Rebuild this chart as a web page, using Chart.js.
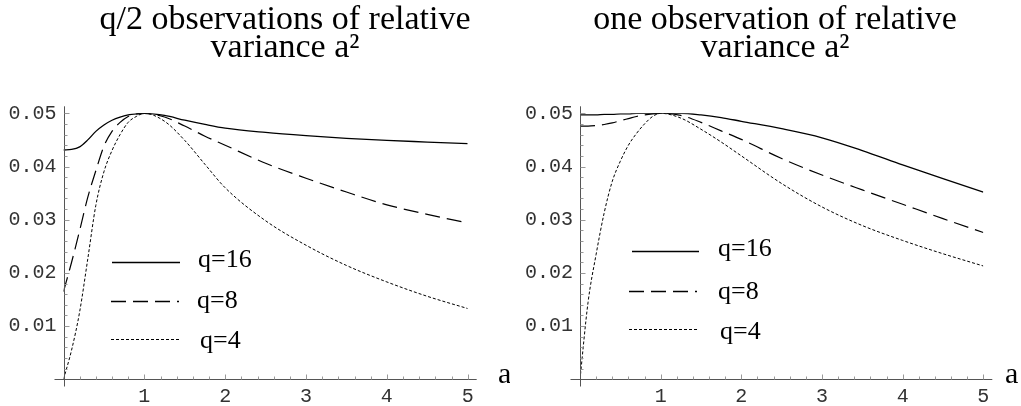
<!DOCTYPE html>
<html><head><meta charset="utf-8">
<script src="https://cdn.jsdelivr.net/npm/chart.js@4"></script>
<style>
html,body{margin:0;padding:0;background:#fff;overflow:hidden;}
#wrap{position:relative;width:1021px;height:406px;}
.box{position:absolute;top:0;height:406px;}
#b1{left:0;width:510px;} #b2{left:510px;width:511px;}
</style></head><body>
<div id="wrap"><div class="box" id="b1"><canvas id="c1"></canvas></div><div class="box" id="b2"><canvas id="c2"></canvas></div></div>
<script>
// ---- data ----
const aValues = [0,0.1,0.2,0.3,0.4,0.5,0.6,0.7,0.8,0.9,1,1.25,1.5,1.75,2,2.5,3,3.5,4,4.5,5];
const leftQ16 = [0.0431,0.0432,0.0437,0.0450,0.0466,0.0478,0.0487,0.0493,0.0497,0.0499,0.0500,0.0496,0.0487,0.0479,0.0472,0.0464,0.0458,0.0453,0.0449,0.0446,0.0443];
const leftQ8  = [0.0165,0.0220,0.0280,0.0342,0.0392,0.0438,0.0466,0.0483,0.0494,0.0499,0.0500,0.0493,0.0476,0.0457,0.0440,0.0406,0.0378,0.0352,0.0328,0.0310,0.0294];
const leftQ4  = [0.0000,0.0055,0.0127,0.0226,0.0327,0.0390,0.0430,0.0460,0.0483,0.0494,0.0500,0.0485,0.0449,0.0404,0.0360,0.0298,0.0252,0.0214,0.0183,0.0156,0.0133];
const rightQ16 = [0.0497,0.0497,0.0497,0.0498,0.0498,0.0499,0.0499,0.0500,0.0500,0.0500,0.0500,0.0500,0.0497,0.0492,0.0485,0.0471,0.0454,0.0430,0.0403,0.0377,0.0352];
const rightQ8  = [0.0476,0.0476,0.0477,0.0479,0.0482,0.0486,0.0490,0.0494,0.0497,0.0499,0.0500,0.0496,0.0483,0.0467,0.0451,0.0415,0.0384,0.0356,0.0329,0.0302,0.0276];
const rightQ4  = [0.0000,0.0145,0.0235,0.0313,0.0372,0.0410,0.0440,0.0462,0.0480,0.0494,0.0500,0.0491,0.0470,0.0446,0.0420,0.0368,0.0324,0.0289,0.0261,0.0236,0.0213];
const seriesLabels = ['q=16','q=8','q=4'];
const xTickValues = [1,2,3,4,5];
const yTickValues = [0.01,0.02,0.03,0.04,0.05];
const leftTitle = ['q/2 observations of relative','variance a\u00B2'];
const rightTitle = ['one observation of relative','variance a\u00B2'];
const axisName = 'a';

// ---- styles ----
const lineStyles = [
  {borderDash: [], borderWidth: 1.3},
  {borderDash: [15, 7], borderWidth: 1.2},
  {borderDash: [3, 2], borderWidth: 1.0}
];

const decorPlugin = {
  id: 'decor',
  afterDraw(chart, args, o) {
    const ctx = chart.ctx;
    const xs = chart.scales.x, ys = chart.scales.y;
    const x0 = Math.round(xs.getPixelForValue(0)) + 0.5;
    const x5 = xs.getPixelForValue(5);
    const y0 = Math.round(ys.getPixelForValue(0)) + 0.5;
    const yT = ys.getPixelForValue(0.05);
    ctx.save();
    // axes
    ctx.strokeStyle = '#555'; ctx.lineWidth = 1; ctx.setLineDash([]);
    ctx.beginPath();
    ctx.moveTo(x0 - 10, y0); ctx.lineTo(x5 + 9, y0);
    ctx.moveTo(x0, y0 + 7); ctx.lineTo(x0, yT - 7);
    ctx.stroke();
    // ticks
    ctx.strokeStyle = '#999';
    ctx.beginPath();
    for (let k = 1; k <= 25; k++) {
      const px = Math.round(xs.getPixelForValue(k * 0.2)) + 0.5;
      const len = (k % 5 === 0) ? 5 : 3;
      ctx.moveTo(px, y0); ctx.lineTo(px, y0 - len);
    }
    for (let k = 1; k <= 25; k++) {
      const py = Math.round(ys.getPixelForValue(k * 0.002)) + 0.5;
      const len = (k % 5 === 0) ? 5 : 3;
      ctx.moveTo(x0, py); ctx.lineTo(x0 + len, py);
    }
    ctx.stroke();
    // title
    ctx.fillStyle = '#000';
    ctx.font = '34px "Liberation Serif"';
    ctx.textAlign = 'center'; ctx.textBaseline = 'alphabetic';
    o.title.forEach((t, i) => ctx.fillText(t, o.titleX, o.titleY[i]));
    // axis name
    ctx.font = '30px "Liberation Serif"';
    ctx.textAlign = 'left';
    ctx.fillText(axisName, o.axisX, o.axisY);
    // legend
    ctx.font = '26px "Liberation Serif"';
    chart.data.datasets.forEach((ds, i) => {
      const L = o.legend[i];
      ctx.strokeStyle = '#000';
      ctx.lineWidth = ds.borderWidth + 0.2;
      ctx.setLineDash(ds.borderDash);
      ctx.beginPath(); ctx.moveTo(L.x1, L.y); ctx.lineTo(L.x2, L.y); ctx.stroke();
      ctx.setLineDash([]);
      ctx.fillText(ds.label, L.tx, L.ty);
    });
    ctx.restore();
  }
};

function makeChart(id, series, yAxisWidth, padRight, decor) {
  return new Chart(document.getElementById(id), {
    type: 'line',
    data: {
      datasets: series.map((s, i) => ({
        label: seriesLabels[i],
        data: aValues.map((a, j) => ({x: a, y: s[j]})),
        borderColor: '#000',
        borderWidth: lineStyles[i].borderWidth,
        borderDash: lineStyles[i].borderDash,
        pointRadius: 0,
        fill: false,
        cubicInterpolationMode: 'monotone'
      }))
    },
    options: {
      responsive: true, maintainAspectRatio: false, animation: false, devicePixelRatio: 1,
      layout: {padding: {top: 113.3, right: padRight, bottom: 0, left: 0}},
      plugins: {legend: {display: false}, title: {display: false}, tooltip: {enabled: false}, decor: decor},
      scales: {
        x: {
          type: 'linear', min: 0, max: 5,
          afterBuildTicks: s => { s.ticks = xTickValues.map(v => ({value: v})); },
          afterFit: s => { s.height = 26.7; },
          grid: {display: false, drawTicks: false}, border: {display: false},
          ticks: {padding: 5, color: '#333', font: {family: '"Liberation Mono"', size: 20}, callback: v => String(v), maxRotation: 0, autoSkip: false}
        },
        y: {
          type: 'linear', min: 0, max: 0.05,
          afterBuildTicks: s => { s.ticks = yTickValues.map(v => ({value: v})); },
          afterFit: s => { s.width = yAxisWidth; },
          grid: {display: false, drawTicks: false}, border: {display: false},
          ticks: {padding: 7, color: '#333', font: {family: '"Liberation Mono"', size: 20}, callback: v => v.toFixed(2), autoSkip: false}
        }
      }
    },
    plugins: [decorPlugin]
  });
}

makeChart('c1', [leftQ16, leftQ8, leftQ4], 63.5, 42.3, {
  title: leftTitle, titleX: 285, titleY: [28.5, 56.5], axisX: 498, axisY: 383,
  legend: [
    {x1: 112, x2: 180, y: 262.5, tx: 198, ty: 266.5},
    {x1: 111, x2: 179, y: 301.5, tx: 197, ty: 307.5},
    {x1: 111, x2: 179, y: 339.5, tx: 200, ty: 347.5}
  ]
});
makeChart('c2', [rightQ16, rightQ8, rightQ4], 70, 37.7, {
  title: rightTitle, titleX: 265, titleY: [28.5, 56.5], axisX: 495, axisY: 383,
  legend: [
    {x1: 122, x2: 189, y: 251.5, tx: 208, ty: 255.5},
    {x1: 119, x2: 187, y: 291.5, tx: 208, ty: 298.5},
    {x1: 119, x2: 188, y: 329.5, tx: 210, ty: 338.5}
  ]
});
</script>
</body></html>
